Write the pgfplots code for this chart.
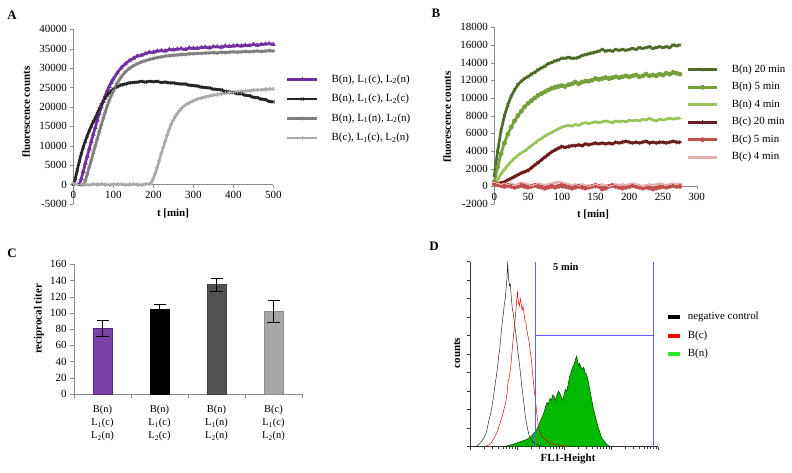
\documentclass[border=0pt]{standalone}
\usepackage{pgfplots}
\pgfplotsset{compat=1.18}
\usepackage{fontspec}
\setmainfont{Liberation Serif}
\definecolor{cPur}{HTML}{7030A0}
\definecolor{cBlk}{HTML}{262626}
\definecolor{cGry}{HTML}{7F7F7F}
\definecolor{cLgr}{HTML}{ABABAB}
\definecolor{gDk}{HTML}{4F6B2A}
\definecolor{gMd}{HTML}{77A03A}
\definecolor{gLt}{HTML}{9BC35A}
\definecolor{rDk}{HTML}{6B1C1C}
\definecolor{rMd}{HTML}{C0504D}
\definecolor{rLt}{HTML}{E6B0B0}
\definecolor{axg}{HTML}{8C8C8C}
\definecolor{fgreen}{RGB}{0,185,0}
\definecolor{lgreen}{RGB}{40,230,40}
\definecolor{gateblue}{RGB}{95,95,245}
\newcommand{\tl}{\fontsize{11}{12}\selectfont}
\newcommand{\lf}{\fontsize{11}{13}\selectfont}
\pgfplotsset{
  excel/.style={scale only axis, anchor=south west, clip=false,
    axis y line=left, axis x line=middle,
    axis line style={-,draw=axg},
    tick style={draw=axg}, tick align=outside, major tick length=3bp,
    ticklabel style={font=\tl},
    /pgf/number format/assume math mode=true,
    /pgf/number format/1000 sep={},
    scaled ticks=false,
    hide obscured x ticks=false, hide obscured y ticks=false,
    legend cell align=left,
    legend image code/.code={\draw[mark repeat=2,mark phase=2] plot coordinates {(0pt,0pt) (15pt,0pt) (30pt,0pt)};},
  },
  lA/.style={line width=2.7bp, mark size=2.1bp, mark options={solid,line width=0.7bp}},
}
\begin{document}
\begin{tikzpicture}
% ---------------- Panel A ----------------
\begin{axis}[excel, at={(73.3bp,269bp)}, width=200bp, height=174.7bp,
  xmin=0, xmax=500, ymin=-5000, ymax=40000,
  xtick={0,100,200,300,400,500}, ytick={-5000,0,5000,10000,15000,20000,25000,30000,35000,40000},
  legend style={at={(1.063,0.745)}, anchor=north west, draw=none, fill=none, font=\lf,
    inner sep=0pt, row sep=8.5bp, nodes={inner sep=0pt, text height=8bp, text depth=3bp},
    /tikz/every odd column/.append style={column sep=13bp}}]
\addplot[lA, cPur, mark=triangle*] coordinates {(15,0)(20,1500)(25,3400)(30,5500)(35,7300)(40,9200)(45,11100)(50,13000)(55,14700)(60,16600)(65,18300)(70,20000)(75,21500)(80,22900)(85,24200)(90,25300)(95,26300)(100,27200)(110,28800)(120,30100)(130,31100)(140,31900)(150,32500)(160,33100)(170,33300)(180,33700)(190,34100)(200,34100)(210,34400)(220,34500)(230,34400)(240,34800)(250,34700)(260,34900)(270,35000)(280,34800)(290,35200)(300,35100)(310,35100)(320,35300)(330,35400)(340,35200)(350,35500)(360,35500)(370,35400)(380,35700)(390,35600)(400,35700)(410,35800)(420,35700)(430,35900)(440,35800)(450,36100)(460,35900)(470,36100)(480,36200)(490,36300)(500,36100)};
\addlegendentry{B(n), L\textsubscript{1}(c), L\textsubscript{2}(n)}
\addplot[lA, cBlk, mark=x] coordinates {(0,0)(5,1500)(10,3800)(15,6000)(20,8000)(25,9700)(30,11200)(35,12600)(40,13900)(45,15100)(50,16200)(55,17200)(60,18300)(65,19500)(70,20600)(75,21500)(80,22400)(85,23100)(90,23700)(95,24200)(100,24600)(110,25200)(120,25700)(130,25900)(140,26200)(150,26300)(160,26400)(170,26600)(180,26400)(190,26600)(200,26500)(210,26600)(220,26300)(230,26400)(240,26200)(250,26200)(260,26000)(270,25900)(280,25900)(290,25600)(300,25500)(310,25400)(320,25100)(330,25000)(340,24900)(350,24600)(360,24500)(370,24400)(380,24000)(390,23900)(400,23700)(410,23400)(420,23400)(430,23000)(440,22900)(450,22500)(460,22400)(470,22000)(480,21900)(490,21400)(500,21300)};
\addlegendentry{B(n), L\textsubscript{1}(c), L\textsubscript{2}(c)}
\addplot[lA, cGry, mark=asterisk] coordinates {(27,0)(30,1000)(35,2700)(40,4500)(45,6300)(50,8200)(55,10000)(60,11800)(65,13600)(70,15400)(75,17100)(80,18800)(85,20300)(90,21700)(95,23000)(100,24100)(110,26200)(120,27800)(130,29000)(140,29900)(150,30600)(160,31100)(170,31600)(180,31900)(190,32200)(200,32500)(210,32700)(220,32900)(230,33100)(240,33200)(250,33300)(260,33400)(270,33500)(280,33500)(290,33700)(300,33700)(310,33800)(320,33800)(330,33900)(340,33900)(350,34000)(360,33900)(370,34100)(380,34000)(390,34100)(400,34200)(410,34100)(420,34200)(430,34300)(440,34200)(450,34300)(460,34400)(470,34300)(480,34400)(490,34500)(500,34400)};
\addlegendentry{B(n), L\textsubscript{1}(n), L\textsubscript{2}(n)}
\addplot[lA, cLgr, mark=+] coordinates {(0,200)(10,100)(20,0)(30,100)(40,-100)(50,100)(60,0)(70,100)(80,0)(90,-100)(100,100)(110,0)(120,100)(130,-100)(140,0)(150,100)(160,0)(170,-100)(180,100)(190,200)(195,500)(200,1500)(205,2900)(210,4500)(215,6200)(220,8000)(225,9600)(230,11200)(235,12800)(240,14300)(245,15500)(250,16600)(255,17500)(260,18300)(265,19000)(270,19600)(280,20500)(290,21100)(300,21600)(310,22000)(320,22300)(330,22600)(340,22800)(350,23000)(360,23200)(370,23400)(380,23500)(390,23700)(400,23800)(410,23900)(420,24000)(430,24100)(440,24200)(450,24300)(460,24400)(470,24400)(480,24500)(490,24600)(500,24600)};
\addlegendentry{B(c), L\textsubscript{1}(c), L\textsubscript{2}(n)}
\end{axis}
\node[font=\fontsize{13}{14}\selectfont\bfseries] at (12bp,458bp) {A};
\node[rotate=90, font=\lf\bfseries] at (26bp,361bp) {fluorescence counts};
\node[font=\lf\bfseries] at (173bp,260bp) {t [min]};
% ---------------- Panel B ----------------
\begin{axis}[excel, at={(494.3bp,269bp)}, width=202.4bp, height=176.7bp,
  xmin=0, xmax=300, ymin=-2000, ymax=18000,
  xtick={0,50,100,150,200,250,300}, ytick={-2000,0,2000,4000,6000,8000,10000,12000,14000,16000,18000},
  legend style={at={(0.947,0.792)}, anchor=north west, draw=none, fill=none, font=\lf,
    inner sep=0pt, row sep=6.5bp, nodes={inner sep=0pt, text height=8bp, text depth=3bp},
    /tikz/every odd column/.append style={column sep=13bp}}]
\addplot[lA, gDk, mark=x] coordinates {(0,1200)(5,4000)(10,6300)(15,8000)(20,9200)(25,10200)(30,10900)(35,11500)(40,11900)(45,12200)(50,12400)(55,12700)(60,12900)(65,13200)(70,13400)(75,13600)(80,13900)(85,14000)(90,14200)(95,14300)(100,14500)(105,14500)(110,14600)(115,14500)(120,14500)(125,14600)(130,14800)(135,14900)(140,15000)(145,15100)(150,15200)(155,15300)(160,15500)(165,15300)(170,15400)(175,15300)(180,15500)(185,15400)(190,15500)(195,15400)(200,15500)(205,15600)(210,15500)(215,15700)(220,15600)(225,15700)(230,15800)(235,15600)(240,15700)(245,15800)(250,15700)(255,15800)(260,15700)(265,16000)(270,15900)(275,16000)};
\addlegendentry{B(n) 20 min}
\addplot[lA, gMd, mark=*] coordinates {(0,500)(5,2200)(10,3700)(15,4900)(20,5900)(25,6700)(30,7400)(35,8000)(40,8500)(45,9000)(50,9400)(55,9700)(60,10000)(65,10300)(70,10500)(75,10700)(80,10900)(85,11100)(90,11200)(95,11300)(100,11400)(105,11300)(110,11500)(115,11600)(120,11800)(125,11600)(130,11800)(135,11900)(140,11900)(145,12000)(150,12200)(155,12100)(160,12200)(165,12300)(170,12200)(175,12300)(180,12400)(185,12300)(190,12400)(195,12500)(200,12400)(205,12500)(210,12600)(215,12400)(220,12500)(225,12700)(230,12500)(235,12600)(240,12500)(245,12700)(250,12600)(255,12800)(260,12700)(265,12900)(270,12800)(275,12700)};
\addlegendentry{B(n) 5 min}
\addplot[lA, gLt, mark=-] coordinates {(0,200)(5,800)(10,1400)(15,1900)(20,2400)(25,2800)(30,3200)(35,3500)(40,3800)(45,4000)(50,4300)(55,4600)(60,4900)(65,5200)(70,5400)(75,5700)(80,5900)(85,6100)(90,6300)(95,6500)(100,6700)(105,6800)(110,6900)(115,6800)(120,7000)(125,6900)(130,7100)(135,7200)(140,7100)(145,7200)(150,7300)(155,7200)(160,7300)(165,7400)(170,7300)(175,7200)(180,7400)(185,7300)(190,7400)(195,7300)(200,7500)(205,7400)(210,7500)(215,7400)(220,7600)(225,7500)(230,7700)(235,7500)(240,7400)(245,7600)(250,7500)(255,7600)(260,7700)(265,7600)(270,7700)(275,7700)};
\addlegendentry{B(n) 4 min}
\addplot[lA, rDk, mark=asterisk] coordinates {(0,300)(5,300)(10,400)(15,500)(20,700)(25,900)(30,1100)(35,1300)(40,1500)(45,1650)(50,1800)(55,2100)(60,2400)(65,2700)(70,3000)(75,3300)(80,3600)(85,3900)(90,4100)(95,4300)(100,4500)(105,4400)(110,4500)(115,4600)(120,4600)(125,4700)(130,4600)(135,4800)(140,4700)(145,4800)(150,4900)(155,4800)(160,4900)(165,4800)(170,4900)(175,4800)(180,5000)(185,4900)(190,5000)(195,5100)(200,5000)(205,4900)(210,5000)(215,4900)(220,5000)(225,5100)(230,4900)(235,5000)(240,4900)(245,5000)(250,5000)(255,4900)(260,5000)(265,5100)(270,5000)(275,5000)};
\addlegendentry{B(c) 20 min}
\addplot[lA, rMd, mark=*] coordinates {(0,300)(5,200)(10,100)(15,0)(20,100)(25,0)(30,-100)(35,0)(40,100)(45,0)(50,-100)(55,0)(60,100)(65,0)(70,-100)(75,-200)(80,-100)(85,0)(90,-100)(95,0)(100,100)(105,0)(110,-100)(115,-200)(120,-100)(125,0)(130,-100)(135,-200)(140,-100)(145,0)(150,100)(155,0)(160,-300)(165,-200)(170,0)(175,100)(180,0)(185,-100)(190,-200)(195,-100)(200,0)(205,100)(210,0)(215,-100)(220,-200)(225,-100)(230,-200)(235,-300)(240,-200)(245,-100)(250,0)(255,-100)(260,0)(265,100)(270,0)(275,0)};
\addlegendentry{B(c) 5 min}
\addplot[lA, rLt, mark=-] coordinates {(0,400)(5,300)(10,200)(15,300)(20,200)(25,300)(30,100)(35,200)(40,400)(45,300)(50,200)(55,100)(60,200)(65,300)(70,200)(75,100)(80,200)(85,300)(90,400)(95,500)(100,400)(105,300)(110,200)(115,100)(120,200)(125,100)(130,200)(135,100)(140,0)(145,100)(150,200)(155,100)(160,200)(165,100)(170,0)(175,100)(180,200)(185,100)(190,200)(195,100)(200,200)(205,300)(210,200)(215,100)(220,0)(225,100)(230,200)(235,100)(240,200)(245,300)(250,200)(255,100)(260,200)(265,300)(270,200)(275,300)};
\addlegendentry{B(c) 4 min}
\end{axis}
\node[font=\fontsize{13}{14}\selectfont\bfseries] at (436bp,460bp) {B};
\node[rotate=90, font=\lf\bfseries] at (447bp,356bp) {fluorescence counts};
\node[font=\lf\bfseries] at (593bp,259bp) {t [min]};
% ---------------- Panel C ----------------
\begin{axis}[scale only axis, anchor=south west, clip=false,
  at={(74bp,79bp)}, width=228bp, height=129.7bp,
  axis y line=left, axis x line=bottom, axis line style={-,draw=axg},
  tick style={draw=axg}, tick align=outside, major tick length=4bp,
  ticklabel style={font=\tl},
  /pgf/number format/assume math mode=true,
  xmin=-0.5, xmax=3.5, ymin=0, ymax=160, ytick={0,20,40,60,80,100,120,140,160},
  xtick={-0.5,0.5,1.5,2.5,3.5}, xticklabels={},
  extra x ticks={0,1,2,3},
  extra x tick labels={{B(n)\\L\textsubscript{1}(c)\\L\textsubscript{2}(n)},{B(n)\\L\textsubscript{1}(c)\\L\textsubscript{2}(c)},{B(n)\\L\textsubscript{1}(n)\\L\textsubscript{2}(n)},{B(c)\\L\textsubscript{1}(c)\\L\textsubscript{2}(n)}},
  extra x tick style={major tick length=0pt, xticklabel style={align=center, font=\fontsize{10.5}{13}\selectfont, yshift=-8bp}},
  ]
\addplot[ybar, bar shift=0pt, bar width=0.33, draw=cPur!80!black, fill=cPur!92,
  error bars/.cd, y dir=both, y explicit, error mark=|, error bar style={black, line width=0.8bp}, error mark options={black, line width=0.8bp, mark size=6bp}]
  coordinates {(0,81) +- (0,9.5)};
\addplot[ybar, bar shift=0pt, bar width=0.33, draw=black, fill=black,
  error bars/.cd, y dir=both, y explicit, error mark=|, error bar style={black, line width=0.8bp}, error mark options={black, line width=0.8bp, mark size=6bp}]
  coordinates {(1,104) +- (0,7)};
\addplot[ybar, bar shift=0pt, bar width=0.33, draw=black!75, fill=black!68,
  error bars/.cd, y dir=both, y explicit, error mark=|, error bar style={black, line width=0.8bp}, error mark options={black, line width=0.8bp, mark size=6bp}]
  coordinates {(2,135) +- (0,8)};
\addplot[ybar, bar shift=0pt, bar width=0.33, draw=black!45, fill=black!35,
  error bars/.cd, y dir=both, y explicit, error mark=|, error bar style={black, line width=0.8bp}, error mark options={black, line width=0.8bp, mark size=6bp}]
  coordinates {(3,102) +- (0,14)};
\end{axis}
\node[font=\fontsize{13}{14}\selectfont\bfseries] at (12bp,220bp) {C};
\node[rotate=90, font=\lf\bfseries] at (39bp,154bp) {reciprocal titer};
% ---------------- Panel D ----------------
\begin{axis}[scale only axis, anchor=south west, clip=false,
  at={(470bp,26.3bp)}, width=188bp, height=185bp,
  axis y line=left, axis x line=bottom, axis line style={-,draw=black!80, line width=0.6bp},
  tick style={draw=black!80, line width=0.5bp}, tick align=outside, major tick length=3bp, minor tick length=2bp,
  xmin=0, xmax=4, ymin=0, ymax=100,
  ytick={0,10,20,30,40,50,60,70,80,90,100}, yticklabels={},
  xtick={0,1,2,3,4}, xticklabels={},
  minor xtick={0.301,0.477,0.602,0.699,0.778,0.845,0.903,0.954,1.301,1.477,1.602,1.699,1.778,1.845,1.903,1.954,2.301,2.477,2.602,2.699,2.778,2.845,2.903,2.954,3.301,3.477,3.602,3.699,3.778,3.845,3.903,3.954},
  legend cell align=left,
  legend image code/.code={\draw[line width=4bp] (0pt,0pt) -- (12pt,0pt);},
  legend style={at={(1.041,0.73)}, anchor=north west, draw=none, fill=none, font=\lf,
    inner sep=0pt, row sep=7.5bp, nodes={inner sep=0pt, text height=8bp, text depth=3bp},
    /tikz/every odd column/.append style={column sep=6bp}}]
\addlegendimage{black}
\addlegendentry{negative control}
\addlegendimage{red}
\addlegendentry{B(c)}
\addlegendimage{lgreen}
\addlegendentry{B(n)}
\addplot[fill=fgreen, draw=black!75!green, line width=0.5bp, forget plot] coordinates {(0.70,0)(0.80,0.5)(0.90,1.2)(1.00,2)(1.10,3)(1.20,3.8)(1.28,5)(1.35,7)(1.40,8.5)(1.45,11)(1.50,14)(1.55,17)(1.58,19)(1.61,22)(1.64,24)(1.67,23)(1.70,26)(1.73,25)(1.76,28)(1.79,27)(1.82,25)(1.85,28)(1.88,30)(1.91,29)(1.94,27)(1.97,25)(2.00,28)(2.03,31)(2.06,30)(2.09,34)(2.12,38)(2.15,40)(2.18,43)(2.21,44)(2.24,47)(2.27,49)(2.29,46)(2.31,44)(2.33,45)(2.36,43)(2.39,42)(2.42,43)(2.45,40)(2.48,39)(2.51,36)(2.54,32)(2.57,28)(2.60,24)(2.63,20)(2.66,17)(2.69,14)(2.72,11)(2.76,8)(2.80,5)(2.85,3)(2.90,1.5)(2.95,0.5)(3.00,0)} \closedcycle;
\addplot[black!85, line width=0.5bp, forget plot] coordinates {(0.10,0)(0.15,0.5)(0.20,1.5)(0.25,3)(0.30,5)(0.35,8)(0.40,14)(0.45,19)(0.50,27)(0.53,33)(0.56,38)(0.59,44)(0.61,49)(0.63,52)(0.65,58)(0.67,63)(0.69,68)(0.71,72)(0.73,77)(0.75,80)(0.77,86)(0.79,92)(0.80,100)(0.82,91)(0.84,87)(0.86,88)(0.88,80)(0.90,75)(0.92,72)(0.94,68)(0.96,64)(0.98,60)(1.00,56)(1.02,51)(1.04,47)(1.06,43)(1.08,38)(1.10,33)(1.12,29)(1.14,25)(1.16,20)(1.18,16)(1.20,13)(1.23,9)(1.26,6)(1.30,4)(1.35,2.5)(1.40,1.5)(1.50,0.5)(1.60,0)};
\addplot[red!90!black, line width=0.5bp, forget plot] coordinates {(0.30,0)(0.40,1)(0.46,2.5)(0.52,5)(0.58,8)(0.63,12)(0.68,16)(0.72,20)(0.76,24)(0.79,29)(0.81,35)(0.83,37)(0.85,40)(0.87,44)(0.89,50)(0.91,56)(0.93,61)(0.95,66)(0.97,72)(0.99,78)(1.01,84)(1.03,78)(1.05,76)(1.07,80)(1.09,77)(1.11,74)(1.13,76)(1.15,72)(1.17,68)(1.19,67)(1.21,63)(1.23,60)(1.25,58)(1.27,54)(1.29,50)(1.31,46)(1.33,40)(1.35,35)(1.37,30)(1.39,26)(1.41,21)(1.43,16)(1.45,12)(1.48,9)(1.52,6)(1.56,5)(1.60,4)(1.65,3)(1.70,2)(1.80,1.2)(1.90,0.8)(2.00,0.4)(2.10,0)};
\draw[gateblue, line width=0.8bp] (axis cs:1.40,0) -- (axis cs:1.40,100);
\draw[gateblue, line width=0.8bp] (axis cs:3.90,0) -- (axis cs:3.90,100);
\draw[gateblue, line width=0.8bp] (axis cs:1.40,60.4) -- (axis cs:3.90,60.4);
\node[font=\fontsize{10.5}{12}\selectfont\bfseries] at (axis cs:2.04,97.3) {5 min};
\end{axis}
\node[font=\fontsize{13}{14}\selectfont\bfseries] at (434bp,227bp) {D};
\node[rotate=90, font=\lf\bfseries] at (457bp,120bp) {counts};
\node[font=\lf\bfseries] at (568bp,14bp) {FL1-Height};
\pgfresetboundingbox
\useasboundingbox (0,0) rectangle (792bp,473bp);
\end{tikzpicture}
\end{document}
